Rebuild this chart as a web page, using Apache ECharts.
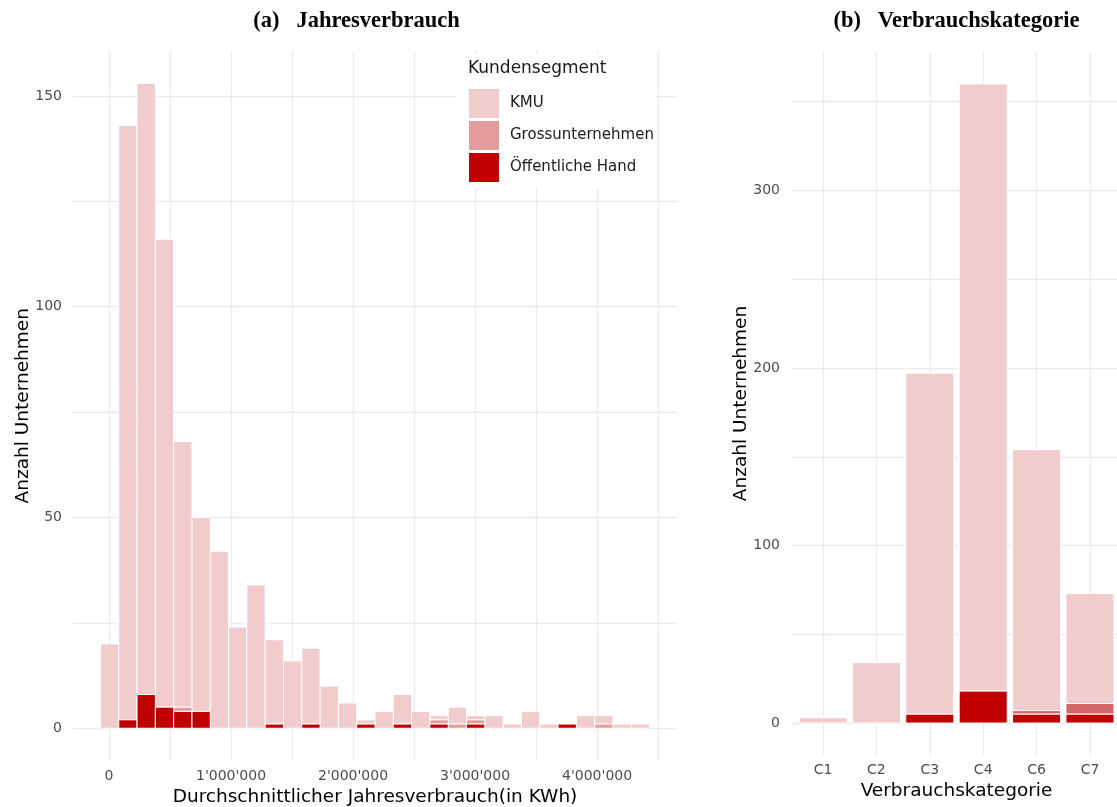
<!DOCTYPE html>
<html><head><meta charset="utf-8">
<script src="https://cdn.jsdelivr.net/npm/echarts@6/dist/echarts.min.js"></script>
<style>html,body{margin:0;padding:0;background:#fff}#c{width:1117px;height:807px}</style>
</head><body><div id="c"></div>
<script>
// ---------- data ----------
const segments = ['KMU', 'Grossunternehmen', 'Öffentliche Hand'];
// (a) histogram: bin lower edge and width (kWh)
const binFirstEdge = -70000;
const binWidth = 150000;
const kmuA   = [20,141,145,111,63,46,42,24,34,20,16,18,10,6,1,4,7,4,1,4,1,3,1,4,1,0,3,2,1,1];
const grossA = [0,0,0,0,1,0,0,0,0,0,0,0,0,0,0,0,0,0,1,1,1,0,0,0,0,0,0,1,0,0];
const ohA    = [0,2,8,5,4,4,0,0,0,1,0,1,0,0,1,0,1,0,1,0,1,0,0,0,0,1,0,0,0,0];
const xTickValuesA = [0,500000,1000000,1500000,2000000,2500000,3000000,3500000,4000000,4500000];
const xLabelValuesA = [0,1000000,2000000,3000000,4000000];
const yTickValuesA = [0,25,50,75,100,125,150];
const yLabelValuesA = [0,50,100,150];
// (b) consumption category
const categories = ['C1','C2','C3','C4','C6','C7'];
const kmuB   = [3,34,192,342,147,62];
const grossB = [0,0,0,0,2,6];
const ohB    = [0,0,5,18,5,5];
const yTickValuesB = [0,50,100,150,200,250,300,350];
const yLabelValuesB = [0,100,200,300];
const titleA = '(a)\u2002 Jahresverbrauch';
const titleB = '(b)\u2002 Verbrauchskategorie';

// ---------- styles ----------
const colorsA = {'KMU':'#F2CBCD','Grossunternehmen':'#E59C9C','Öffentliche Hand':'#C00000'};
const colorsB = {'KMU':'#F2CBCD','Grossunternehmen':'#D66666','Öffentliche Hand':'#C00000'};
const SANS = 'DejaVu Sans';
const gridColor = '#EBEBEB';
const tickColor = '#4D4D4D';

function fmtThousands(v){ return String(v).replace(/\B(?=(\d{3})+(?!\d))/g, "'"); }

function renderRect(params, api){
  const p0 = api.coord([api.value(0), api.value(3)]);
  const p1 = api.coord([api.value(1), api.value(2)]);
  return {
    type:'rect',
    shape:{x:p0[0], y:p0[1], width:p1[0]-p0[0], height:p1[1]-p0[1]},
    style:{fill: api.visual('color'), stroke:'#ffffff', lineWidth:1}
  };
}

// stacking order bottom->top: Öffentliche Hand, Grossunternehmen, KMU
const stackOrder = [['Öffentliche Hand', ohA, ohB], ['Grossunternehmen', grossA, grossB], ['KMU', kmuA, kmuB]];

function buildA(){
  const base = kmuA.map(() => 0);
  const out = {};
  stackOrder.forEach(([name, arr]) => {
    const d = [];
    arr.forEach((v, i) => {
      const x0 = binFirstEdge + i*binWidth, x1 = x0 + binWidth;
      if (v > 0) d.push([x0, x1, base[i], base[i] + v]);
      base[i] += v;
    });
    out[name] = d;
  });
  return out;
}
function buildB(){
  const base = kmuB.map(() => 0);
  const out = {};
  stackOrder.forEach(([name, , arr]) => {
    const d = [];
    arr.forEach((v, i) => {
      const c = i + 1;
      if (v > 0) d.push([c - 0.45, c + 0.45, base[i], base[i] + v]);
      base[i] += v;
    });
    out[name] = d;
  });
  return out;
}
const dataA = buildA();
const dataB = buildB();

const series = [];
segments.forEach(name => {
  series.push({
    name, type:'custom', xAxisIndex:0, yAxisIndex:0,
    itemStyle:{color: colorsA[name]},
    renderItem: renderRect, encode:{x:[0,1], y:[2,3]},
    data: dataA[name], silent:true
  });
});
segments.forEach(name => {
  series.push({
    name, type:'custom', xAxisIndex:1, yAxisIndex:1,
    itemStyle:{color: colorsB[name]},
    renderItem: renderRect, encode:{x:[0,1], y:[2,3]},
    data: dataB[name], silent:true
  });
});

const axisCommon = {
  axisLine:{show:false}, axisTick:{show:false},
  nameMoveOverlap:false,
  splitLine:{show:true, lineStyle:{color:gridColor, width:1.3}}
};

const chart = echarts.init(document.getElementById('c'), null, {renderer:'canvas'});
chart.setOption({
  animation:false,
  backgroundColor:'#ffffff',
  textStyle:{fontFamily:SANS},
  grid:[
    {left:73, width:604, top:51, height:709.5, outerBoundsMode:'none', containLabel:false},
    {left:791, width:331, top:52, height:703, outerBoundsMode:'none', containLabel:false}
  ],
  xAxis:[
    Object.assign({}, axisCommon, {
      type:'value', gridIndex:0, min:-295000, max:4655000,
      axisTick:{show:false, customValues:xTickValuesA},
      axisLabel:{customValues:xLabelValuesA, formatter:fmtThousands, color:tickColor, fontSize:14, fontFamily:SANS, margin:9},
      name:'Durchschnittlicher Jahresverbrauch(in KWh)', nameLocation:'middle', nameGap:27,
      nameTextStyle:{color:'#000', fontSize:18.5, fontFamily:SANS}
    }),
    Object.assign({}, axisCommon, {
      type:'value', gridIndex:1, min:0.4, max:6.6,
      axisTick:{show:false, customValues:[1,2,3,4,5,6]},
      axisLabel:{customValues:[1,2,3,4,5,6], formatter:v => categories[Math.round(v)-1], color:tickColor, fontSize:14, fontFamily:SANS, margin:8},
      name:'Verbrauchskategorie', nameLocation:'middle', nameGap:27,
      nameTextStyle:{color:'#000', fontSize:18.5, fontFamily:SANS}
    })
  ],
  yAxis:[
    Object.assign({}, axisCommon, {
      type:'value', gridIndex:0, min:-7.65, max:160.65,
      axisTick:{show:false, customValues:yTickValuesA},
      axisLabel:{customValues:yLabelValuesA, color:tickColor, fontSize:14, fontFamily:SANS, margin:11},
      name:'Anzahl Unternehmen', nameLocation:'middle', nameGap:40,
      nameTextStyle:{color:'#000', fontSize:18.5, fontFamily:SANS}
    }),
    Object.assign({}, axisCommon, {
      type:'value', gridIndex:1, min:-18, max:378,
      axisTick:{show:false, customValues:yTickValuesB},
      axisLabel:{customValues:yLabelValuesB, color:tickColor, fontSize:14, fontFamily:SANS, margin:11},
      name:'Anzahl Unternehmen', nameLocation:'middle', nameGap:40,
      nameTextStyle:{color:'#000', fontSize:18.5, fontFamily:SANS}
    })
  ],
  legend:{
    data: segments.map(n => ({name:n, icon:'rect'})),
    orient:'vertical', left:457, top:54,
    padding:[35,2,6,12],
    backgroundColor:'#ffffff',
    itemWidth:30, itemHeight:29, itemGap:3,
    itemStyle:{borderWidth:0},
    textStyle:{fontSize:15, fontFamily:SANS, color:'#1A1A1A', padding:[0,0,0,6]},
    selectedMode:false
  },
  graphic:[
    {type:'text', left:468, top:60, z:100, style:{text:'Kundensegment', font:'17px "DejaVu Sans"', fill:'#1A1A1A'}},
    {type:'text', x:356.5, y:21, z:100, style:{text:titleA, font:'bold 22.5px "Liberation Serif"', fill:'#000', align:'center', verticalAlign:'middle'}},
    {type:'text', x:956.5, y:21, z:100, style:{text:titleB, font:'bold 22.5px "Liberation Serif"', fill:'#000', align:'center', verticalAlign:'middle'}}
  ],
  series
});
</script>
</body></html>
